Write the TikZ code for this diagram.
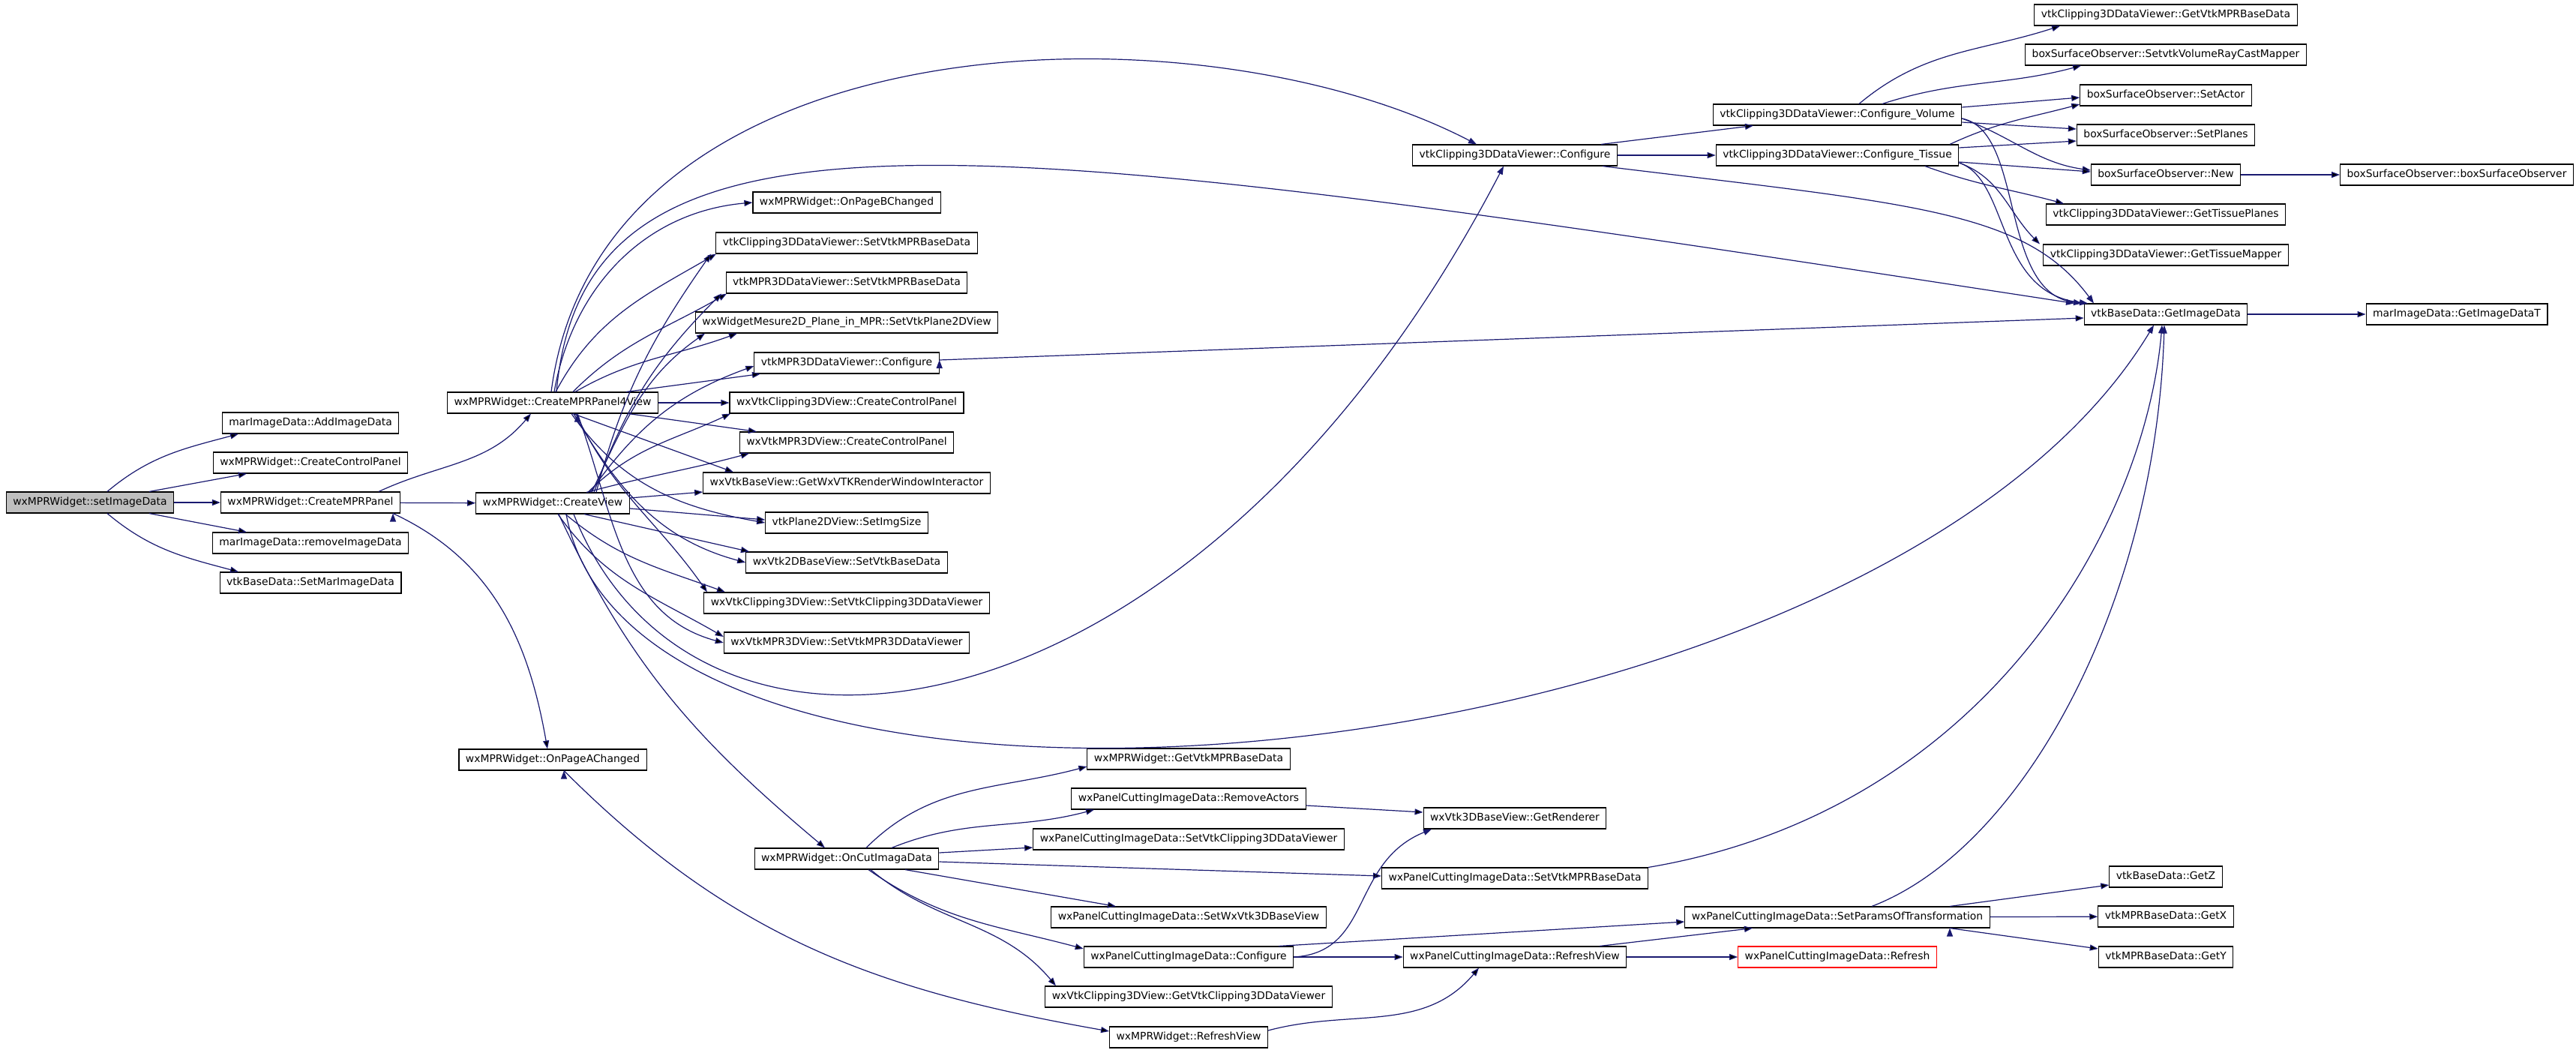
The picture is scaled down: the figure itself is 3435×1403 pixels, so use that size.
\documentclass[tikz,border=0pt]{standalone}
\usepackage{fontspec}
\setmainfont{DejaVu Sans}
\usetikzlibrary{arrows.meta}
\definecolor{callblue}{RGB}{25,25,112}
\definecolor{rootgrey}{RGB}{191,191,191}

\begin{document}
\begin{tikzpicture}[
x=1pt, y=1pt,
fn/.style={draw=black, fill=white, line width=1.1pt, inner xsep=9pt, inner ysep=0pt, minimum height=28pt, text height=10.2pt, text depth=3pt, font=\fontsize{13.9pt}{16pt}\selectfont},
rootfn/.style={fn, fill=rootgrey},
redfn/.style={fn, draw=red},
call/.style={draw=callblue, line width=1.2pt, -{Triangle[length=11pt,width=8pt]}},
]
\useasboundingbox (0,0) rectangle (3435,-1403);

\node[rootfn] (root) at (120,-670) {wxMPRWidget::setImageData};
\node[fn] (add) at (414,-564) {marImageData::AddImageData};
\node[fn] (ctrl) at (414,-617) {wxMPRWidget::CreateControlPanel};
\node[fn] (mpr) at (414,-670) {wxMPRWidget::CreateMPRPanel};
\node[fn] (rem) at (414,-724) {marImageData::removeImageData};
\node[fn] (setmar) at (414,-777) {vtkBaseData::SetMarImageData};

\node[fn] (p4v) at (737,-537) {wxMPRWidget::CreateMPRPanel4View};
\node[fn] (cview) at (737,-671) {wxMPRWidget::CreateView};
\node[fn] (pagea) at (737,-1013) {wxMPRWidget::OnPageAChanged};

\node[fn] (pageb) at (1129,-270) {wxMPRWidget::OnPageBChanged};
\node[fn] (clipbase) at (1129,-324) {vtkClipping3DDataViewer::SetVtkMPRBaseData};
\node[fn] (mprbase) at (1129,-377) {vtkMPR3DDataViewer::SetVtkMPRBaseData};
\node[fn] (mesure) at (1129,-430) {wxWidgetMesure2D\_Plane\_in\_MPR::SetVtkPlane2DView};
\node[fn] (mprconf) at (1129,-484) {vtkMPR3DDataViewer::Configure};
\node[fn] (clipctrl) at (1129,-537) {wxVtkClipping3DView::CreateControlPanel};
\node[fn] (mprctrl) at (1129,-590) {wxVtkMPR3DView::CreateControlPanel};
\node[fn] (interactor) at (1129,-644) {wxVtkBaseView::GetWxVTKRenderWindowInteractor};
\node[fn] (imgsize) at (1129,-697) {vtkPlane2DView::SetImgSize};
\node[fn] (basedata2d) at (1129,-750) {wxVtk2DBaseView::SetVtkBaseData};
\node[fn] (setclip) at (1129,-804) {wxVtkClipping3DView::SetVtkClipping3DDataViewer};
\node[fn] (setmpr3d) at (1129,-857) {wxVtkMPR3DView::SetVtkMPR3DDataViewer};
\node[fn] (cut) at (1129,-1145) {wxMPRWidget::OnCutImagaData};

\node[fn] (getmprb) at (1585,-1012) {wxMPRWidget::GetVtkMPRBaseData};
\node[fn] (remact) at (1585,-1065) {wxPanelCuttingImageData::RemoveActors};
\node[fn] (pclip) at (1585,-1119) {wxPanelCuttingImageData::SetVtkClipping3DDataViewer};
\node[fn] (pwx3d) at (1585,-1223) {wxPanelCuttingImageData::SetWxVtk3DBaseView};
\node[fn] (pconf) at (1585,-1276) {wxPanelCuttingImageData::Configure};
\node[fn] (getclip) at (1585,-1329) {wxVtkClipping3DView::GetVtkClipping3DDataViewer};
\node[fn] (refresh) at (1585,-1383) {wxMPRWidget::RefreshView};

\node[fn] (clipconf) at (2020,-207) {vtkClipping3DDataViewer::Configure};
\node[fn] (renderer) at (2020,-1091) {wxVtk3DBaseView::GetRenderer};
\node[fn] (pmprbase) at (2020,-1171) {wxPanelCuttingImageData::SetVtkMPRBaseData};
\node[fn] (prefreshv) at (2020,-1276) {wxPanelCuttingImageData::RefreshView};

\node[fn] (confvol) at (2450,-153) {vtkClipping3DDataViewer::Configure\_Volume};
\node[fn] (conftis) at (2450,-207) {vtkClipping3DDataViewer::Configure\_Tissue};
\node[fn] (params) at (2450,-1223) {wxPanelCuttingImageData::SetParamsOfTransformation};
\node[redfn] (prefresh) at (2450,-1276) {wxPanelCuttingImageData::Refresh};

\node[fn] (getbase) at (2888,-20) {vtkClipping3DDataViewer::GetVtkMPRBaseData};
\node[fn] (raycast) at (2888,-73) {boxSurfaceObserver::SetvtkVolumeRayCastMapper};
\node[fn] (setactor) at (2888,-127) {boxSurfaceObserver::SetActor};
\node[fn] (setplanes) at (2888,-180) {boxSurfaceObserver::SetPlanes};
\node[fn] (obsnew) at (2888,-233) {boxSurfaceObserver::New};
\node[fn] (tplanes) at (2888,-286) {vtkClipping3DDataViewer::GetTissuePlanes};
\node[fn] (tmapper) at (2888,-340) {vtkClipping3DDataViewer::GetTissueMapper};
\node[fn] (imgdata) at (2888,-419) {vtkBaseData::GetImageData};
\node[fn] (getz) at (2888,-1169) {vtkBaseData::GetZ};
\node[fn] (getx) at (2888,-1222) {vtkMPRBaseData::GetX};
\node[fn] (gety) at (2888,-1276) {vtkMPRBaseData::GetY};

\node[fn] (obsctor) at (3276,-233) {boxSurfaceObserver::boxSurfaceObserver};
\node[fn] (imgdatat) at (3276,-419) {marImageData::GetImageDataT};

\path[call]
([xshift=23]root.north) edge[out=40,in=195] ([xshift=-96]add.south)
([xshift=79]root.north) edge ([xshift=-85]ctrl.south)
(root) edge (mpr)
([xshift=79]root.south) edge ([xshift=-85]rem.north)
([xshift=23]root.south) edge[out=-40,in=165] ([xshift=-96]setmar.north)
([xshift=91]mpr.north) edge[out=25,in=230] ([xshift=-29]p4v.south)
(mpr) edge (cview)
([xshift=110]mpr.south) edge[out=-25,in=100] ([xshift=-7]pagea.north)
;

\path[call]
([xshift=2]p4v.north) edge[out=80,in=185] (pageb.west)
([xshift=4]p4v.north) edge[out=62,in=210] ([xshift=-174]clipbase.south)
([xshift=27]p4v.north) edge[out=45,in=210] ([xshift=-160]mprbase.south)
([xshift=30]p4v.north) edge[out=30,in=200] ([xshift=-146]mesure.south)
([xshift=98]p4v.north) edge ([xshift=-115]mprconf.south)
(p4v) edge (clipctrl)
([xshift=101]p4v.south) edge ([xshift=-120]mprctrl.north)
([xshift=27]p4v.south) edge ([xshift=-151]interactor.north)
([xshift=25]p4v.south) edge[out=-55,in=170] (imgsize.west)
([xshift=28]p4v.south) edge[out=-60,in=165] (basedata2d.west)
([xshift=31]p4v.south) edge[out=-65,in=125] ([xshift=-186]setclip.north)
([xshift=33]p4v.south) edge[out=-70,in=165] (setmpr3d.west)
;
\draw[call] ([xshift=-2]p4v.north) .. controls (800,-20) and (1600,0) .. ([xshift=-51]clipconf.north);
\draw[call] ([xshift=5]p4v.north) .. controls (780,-100) and (1300,-180) .. ([xshift=-122]imgdata.north);

\path[call]
([xshift=58]cview.north) edge[out=75,in=235] ([xshift=-181]clipbase.south)
([xshift=55]cview.north) edge[out=70,in=225] ([xshift=-167]mprbase.south)
([xshift=52]cview.north) edge[out=65,in=215] ([xshift=-189]mesure.south)
([xshift=50]cview.north) edge[out=55,in=200] ([yshift=-4]mprconf.west)
([xshift=47]cview.north) edge[out=45,in=205] ([xshift=-155]clipctrl.south)
([xshift=45]cview.north) edge[out=15,in=195] ([xshift=-130]mprctrl.south)
([yshift=7]cview.east) edge ([yshift=-12]interactor.west)
([yshift=-7]cview.east) edge ([yshift=4]imgsize.west)
([xshift=42]cview.south) edge ([xshift=-130]basedata2d.north)
([xshift=17]cview.south) edge[out=-40,in=160] ([xshift=-162]setclip.north)
([xshift=7]cview.south) edge[out=-55,in=150] ([yshift=8]setmpr3d.west)
([xshift=8]cview.south) edge[out=-65,in=140] ([xshift=-29]cut.north)
([xshift=15]pagea.south) edge[out=-45,in=170] ([yshift=8]refresh.west)
;
\draw[call] ([xshift=28]cview.south) .. controls (930,-1100) and (1600,-1000) .. ([xshift=-15]clipconf.south);
\draw[call] ([xshift=18]cview.south) .. controls (850,-1200) and (2500,-1050) .. ([xshift=-16]imgdata.south);

\path[call]
([xshift=26]cut.north) edge[out=45,in=195] ([yshift=-10]getmprb.west)
([xshift=60]cut.north) edge[out=22,in=195] ([xshift=-126]remact.south)
([yshift=8]cut.east) edge ([yshift=-11]pclip.west)
([yshift=-4]cut.east) edge ([yshift=3]pmprbase.west)
([xshift=78]cut.south) edge ([xshift=-97]pwx3d.north)
([xshift=29]cut.south) edge[out=-35,in=165] ([yshift=11]pconf.west)
([xshift=32]cut.south) edge[out=-40,in=130] ([xshift=-177]getclip.north)
([yshift=-9]remact.east) edge ([yshift=8]renderer.west)
([xshift=120]pconf.north) edge ([yshift=-6]params.west)
(pconf) edge (prefreshv)
([yshift=9]refresh.east) edge[out=15,in=230] ([xshift=-48]prefreshv.south)
([xshift=113]prefreshv.north) edge ([xshift=-113]params.south)
(prefreshv) edge (prefresh)
([xshift=150]params.north) edge ([yshift=-11]getz.west)
(params) edge (getx)
([xshift=150]params.south) edge ([yshift=11]gety.west)
;
\draw[call] (pconf.east) .. controls (1830,-1270) and (1800,-1150) .. ([xshift=-111]renderer.south);
\draw[call] (pmprbase.north east) .. controls (2650,-1080) and (2860,-700) .. ([xshift=-5]imgdata.south);
\draw[call] ([xshift=46]params.north) .. controls (2700,-1130) and (2875,-800) .. ([xshift=-2]imgdata.south);

\path[call]
([xshift=115]clipconf.north) edge ([xshift=-112]confvol.south)
(clipconf) edge (conftis)
([xshift=29]confvol.north) edge[out=40,in=198] ([xshift=-141]getbase.south)
([xshift=60]confvol.north) edge[out=18,in=195] ([xshift=-113]raycast.south)
([yshift=10]confvol.east) edge ([yshift=-3]setactor.west)
([yshift=-10]confvol.east) edge ([yshift=8]setplanes.west)
([yshift=-5]confvol.east) edge[out=-20,in=172] ([yshift=6]obsnew.west)
([xshift=150]conftis.north) edge[out=25,in=195] ([yshift=-12]setactor.west)
([yshift=10]conftis.east) edge ([yshift=-8]setplanes.west)
([yshift=-9]conftis.east) edge ([yshift=4]obsnew.west)
([xshift=117]conftis.south) edge[out=-20,in=165] ([xshift=-136]tplanes.north)
([yshift=-10]conftis.east) edge[out=-20,in=135] ([xshift=-168]tmapper.north)
(obsnew) edge (obsctor)
(imgdata) edge (imgdatat)
([yshift=4]mprconf.east) edge ([yshift=-5]imgdata.west)
;
\draw[call] ([xshift=117]clipconf.south) .. controls (2550,-272) and (2700,-280) .. ([xshift=-96]imgdata.north);
\draw[call] ([yshift=-5]confvol.east) .. controls (2700,-175) and (2665,-390) .. ([xshift=-112]imgdata.north);
\draw[call] ([yshift=-10]conftis.east) .. controls (2680,-240) and (2660,-390) .. ([xshift=-104]imgdata.north);
\end{tikzpicture}
\end{document}
